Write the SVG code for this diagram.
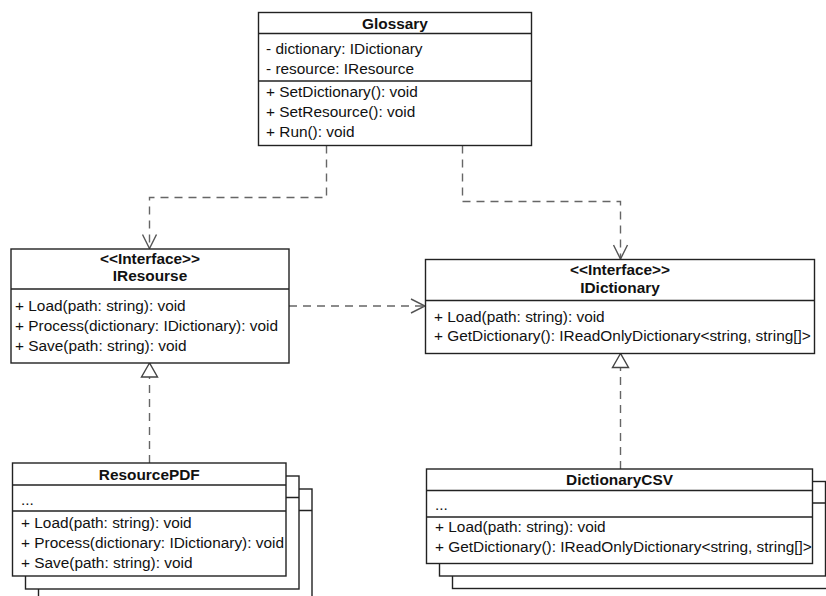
<svg xmlns="http://www.w3.org/2000/svg" width="826" height="596" viewBox="0 0 826 596">
<style>
  .box { fill: #fff; stroke: #222; stroke-width: 1.4; }
  .sep { stroke: #222; stroke-width: 1.4; fill: none; }
  text { font-family: "Liberation Sans", Arial, Helvetica, sans-serif; font-size: 15.4px; fill: #111; }
  .b { font-weight: bold; }
  .c { text-anchor: middle; }
  .dash { fill: none; stroke: #666; stroke-width: 1.4; stroke-dasharray: 8 6; }
</style>
<defs>
  <marker id="open" markerUnits="userSpaceOnUse" viewBox="0 0 16 16" refX="15" refY="8" markerWidth="16" markerHeight="16" orient="auto">
    <path d="M1,1 L15,8 L1,15" fill="none" stroke="#555" stroke-width="1.4" stroke-dasharray="none"/>
  </marker>
  <marker id="tri" markerUnits="userSpaceOnUse" viewBox="0 0 18 20" refX="16" refY="10" markerWidth="18" markerHeight="20" orient="auto">
    <path d="M16,10 L2,2 L2,18 Z" fill="#fff" stroke="#444" stroke-width="1.4" stroke-dasharray="none"/>
  </marker>
</defs>

<g id="connectors">
  <path class="dash" d="M326.5,145.5 V197.5 H149.5 V248.5" marker-end="url(#open)"/>
  <path class="dash" d="M462.5,145.5 V201.5 H620.5 V259" marker-end="url(#open)"/>
  <path class="dash" d="M289,306 H425" marker-end="url(#open)"/>
  <path class="dash" d="M149.5,463 V363" marker-end="url(#tri)"/>
  <path class="dash" d="M620.5,469 V353.5" marker-end="url(#tri)"/>
</g>

<g id="Glossary">
  <rect class="box" x="258.5" y="12.5" width="273" height="133"/>
  <line class="sep" x1="258.5" y1="33.5" x2="531.5" y2="33.5"/>
  <line class="sep" x1="258.5" y1="81" x2="531.5" y2="81"/>
  <text class="b c" x="395" y="28.5">Glossary</text>
  <text x="266" y="54">- dictionary: IDictionary</text>
  <text x="266" y="74">- resource: IResource</text>
  <text x="266" y="96.5">+ SetDictionary(): void</text>
  <text x="266" y="116.5">+ SetResource(): void</text>
  <text x="266" y="136.5">+ Run(): void</text>
</g>

<g id="IResourse">
  <rect class="box" x="11" y="249" width="278" height="114"/>
  <line class="sep" x1="11" y1="289" x2="289" y2="289"/>
  <text class="b c" x="150" y="263.5">&lt;&lt;Interface&gt;&gt;</text>
  <text class="b c" x="150" y="280.5">IResourse</text>
  <text x="15" y="311">+ Load(path: string): void</text>
  <text x="15" y="331">+ Process(dictionary: IDictionary): void</text>
  <text x="15" y="351">+ Save(path: string): void</text>
</g>

<g id="IDictionary">
  <rect class="box" x="425.5" y="259.5" width="389" height="94"/>
  <line class="sep" x1="425.5" y1="300.5" x2="814.5" y2="300.5"/>
  <text class="b c" x="620" y="275">&lt;&lt;Interface&gt;&gt;</text>
  <text class="b c" x="620" y="292.5">IDictionary</text>
  <text x="434" y="321.5">+ Load(path: string): void</text>
  <text x="434" y="341">+ GetDictionary(): IReadOnlyDictionary&lt;string, string[]&gt;</text>
</g>

<g id="ResourcePDF">
  <rect class="box" x="38.5" y="489" width="273.5" height="113"/>
  <line class="sep" x1="38.5" y1="510.5" x2="312" y2="510.5"/>
  <rect class="box" x="25.5" y="476" width="273.5" height="113"/>
  <line class="sep" x1="25.5" y1="497.5" x2="299" y2="497.5"/>
  <rect class="box" x="12.5" y="463" width="273.5" height="113"/>
  <line class="sep" x1="12.5" y1="485" x2="286" y2="485"/>
  <line class="sep" x1="12.5" y1="511" x2="286" y2="511"/>
  <text class="b c" x="149.3" y="479.5">ResourcePDF</text>
  <text x="21" y="505">...</text>
  <text x="21" y="527.5">+ Load(path: string): void</text>
  <text x="21" y="547.5">+ Process(dictionary: IDictionary): void</text>
  <text x="21" y="567.5">+ Save(path: string): void</text>
</g>

<g id="DictionaryCSV">
  <rect class="box" x="452.5" y="494" width="386" height="94.5"/>
  <line class="sep" x1="452.5" y1="515.5" x2="838.5" y2="515.5"/>
  <rect class="box" x="439.5" y="481.5" width="386" height="94.5"/>
  <line class="sep" x1="439.5" y1="503" x2="825.5" y2="503"/>
  <rect class="box" x="426.5" y="469" width="386" height="94.5"/>
  <line class="sep" x1="426.5" y1="490.5" x2="812.5" y2="490.5"/>
  <line class="sep" x1="426.5" y1="517" x2="812.5" y2="517"/>
  <text class="b c" x="619.5" y="484.5">DictionaryCSV</text>
  <text x="435" y="509.5">...</text>
  <text x="435" y="531.5">+ Load(path: string): void</text>
  <text x="435" y="551.5">+ GetDictionary(): IReadOnlyDictionary&lt;string, string[]&gt;</text>
</g>
</svg>
